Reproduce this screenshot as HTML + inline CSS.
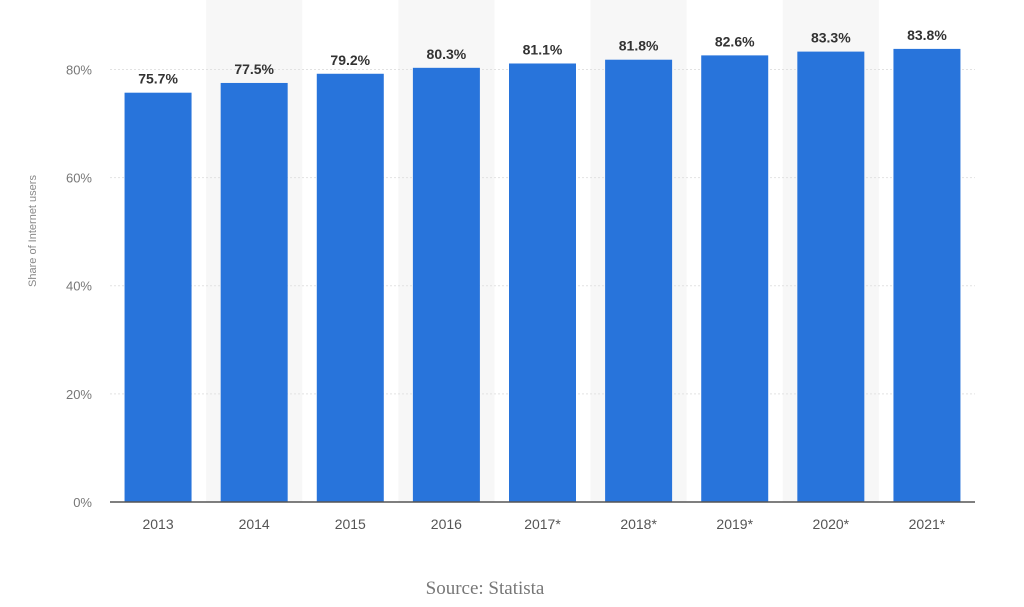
<!DOCTYPE html>
<html><head><meta charset="utf-8"><style>
html,body{margin:0;padding:0;background:#fff;width:1024px;height:607px;overflow:hidden}
svg{display:block;font-family:"Liberation Sans",sans-serif}
</style></head><body>
<svg id="chart" width="1024" height="607">
<g id="bands"></g><g id="grid"></g><g id="bars"></g><g id="labels"></g>
<text x="36" y="231" transform="rotate(-90 36 231)" font-size="11" fill="#888" text-anchor="middle">Share of Internet users</text>
<line x1="110" y1="502" x2="975" y2="502" stroke="#555" stroke-width="1.5"/>
<text x="485" y="594" font-size="19" fill="#777" text-anchor="middle" font-family="Liberation Serif, serif">Source: Statista</text>
</svg>
<script>
const categories=["2013","2014","2015","2016","2017*","2018*","2019*","2020*","2021*"];
const values=[75.7,77.5,79.2,80.3,81.1,81.8,82.6,83.3,83.8];
const valueLabels=["75.7%","77.5%","79.2%","80.3%","81.1%","81.8%","82.6%","83.3%","83.8%"];
const yTicks=[0,20,40,60,80];
const NS="http://www.w3.org/2000/svg";
const x0=110,x1=975,yBase=502,pxPer=5.407;
const step=(x1-x0)/categories.length;
const y=v=>yBase-v*pxPer;
const xc=i=>x0+step*(i+0.5);
function mk(t,a,p){const e=document.createElementNS(NS,t);for(const k in a)e.setAttribute(k,a[k]);p.appendChild(e);return e;}
const bands=document.getElementById('bands'),grid=document.getElementById('grid'),bars=document.getElementById('bars'),labels=document.getElementById('labels');
categories.forEach((c,i)=>{
 if(i%2===1){const b=mk('rect',{x:xc(i)-step/2,y:0,width:step,height:yBase,fill:'#f7f7f7'},bands);
 
 }
});
yTicks.forEach(t=>{
 if(t>0){const l=mk('line',{x1:x0,x2:x1,y1:y(t),y2:y(t),stroke:'#e2e2e2','stroke-dasharray':'2,2'},grid);
 
 }
 const tx=mk('text',{x:92,y:y(t)+5,'font-size':13,fill:'#777','text-anchor':'end'},labels);
 tx.textContent=t+'%';
 
 
});
const bw=67;
categories.forEach((c,i)=>{
 const r=mk('rect',{x:xc(i)-bw/2,y:y(values[i]),width:bw,height:yBase-y(values[i]),fill:'#2874db'},bars);
 
 
 const v=mk('text',{x:xc(i),y:y(values[i])-9,'font-size':14,'font-weight':'bold',fill:'#333','text-anchor':'middle'},labels);
 v.textContent=valueLabels[i];
 
 
 const xl=mk('text',{x:xc(i),y:529,'font-size':14,fill:'#555','text-anchor':'middle'},labels);
 xl.textContent=c;
 
 
});
</script>
</body></html>
